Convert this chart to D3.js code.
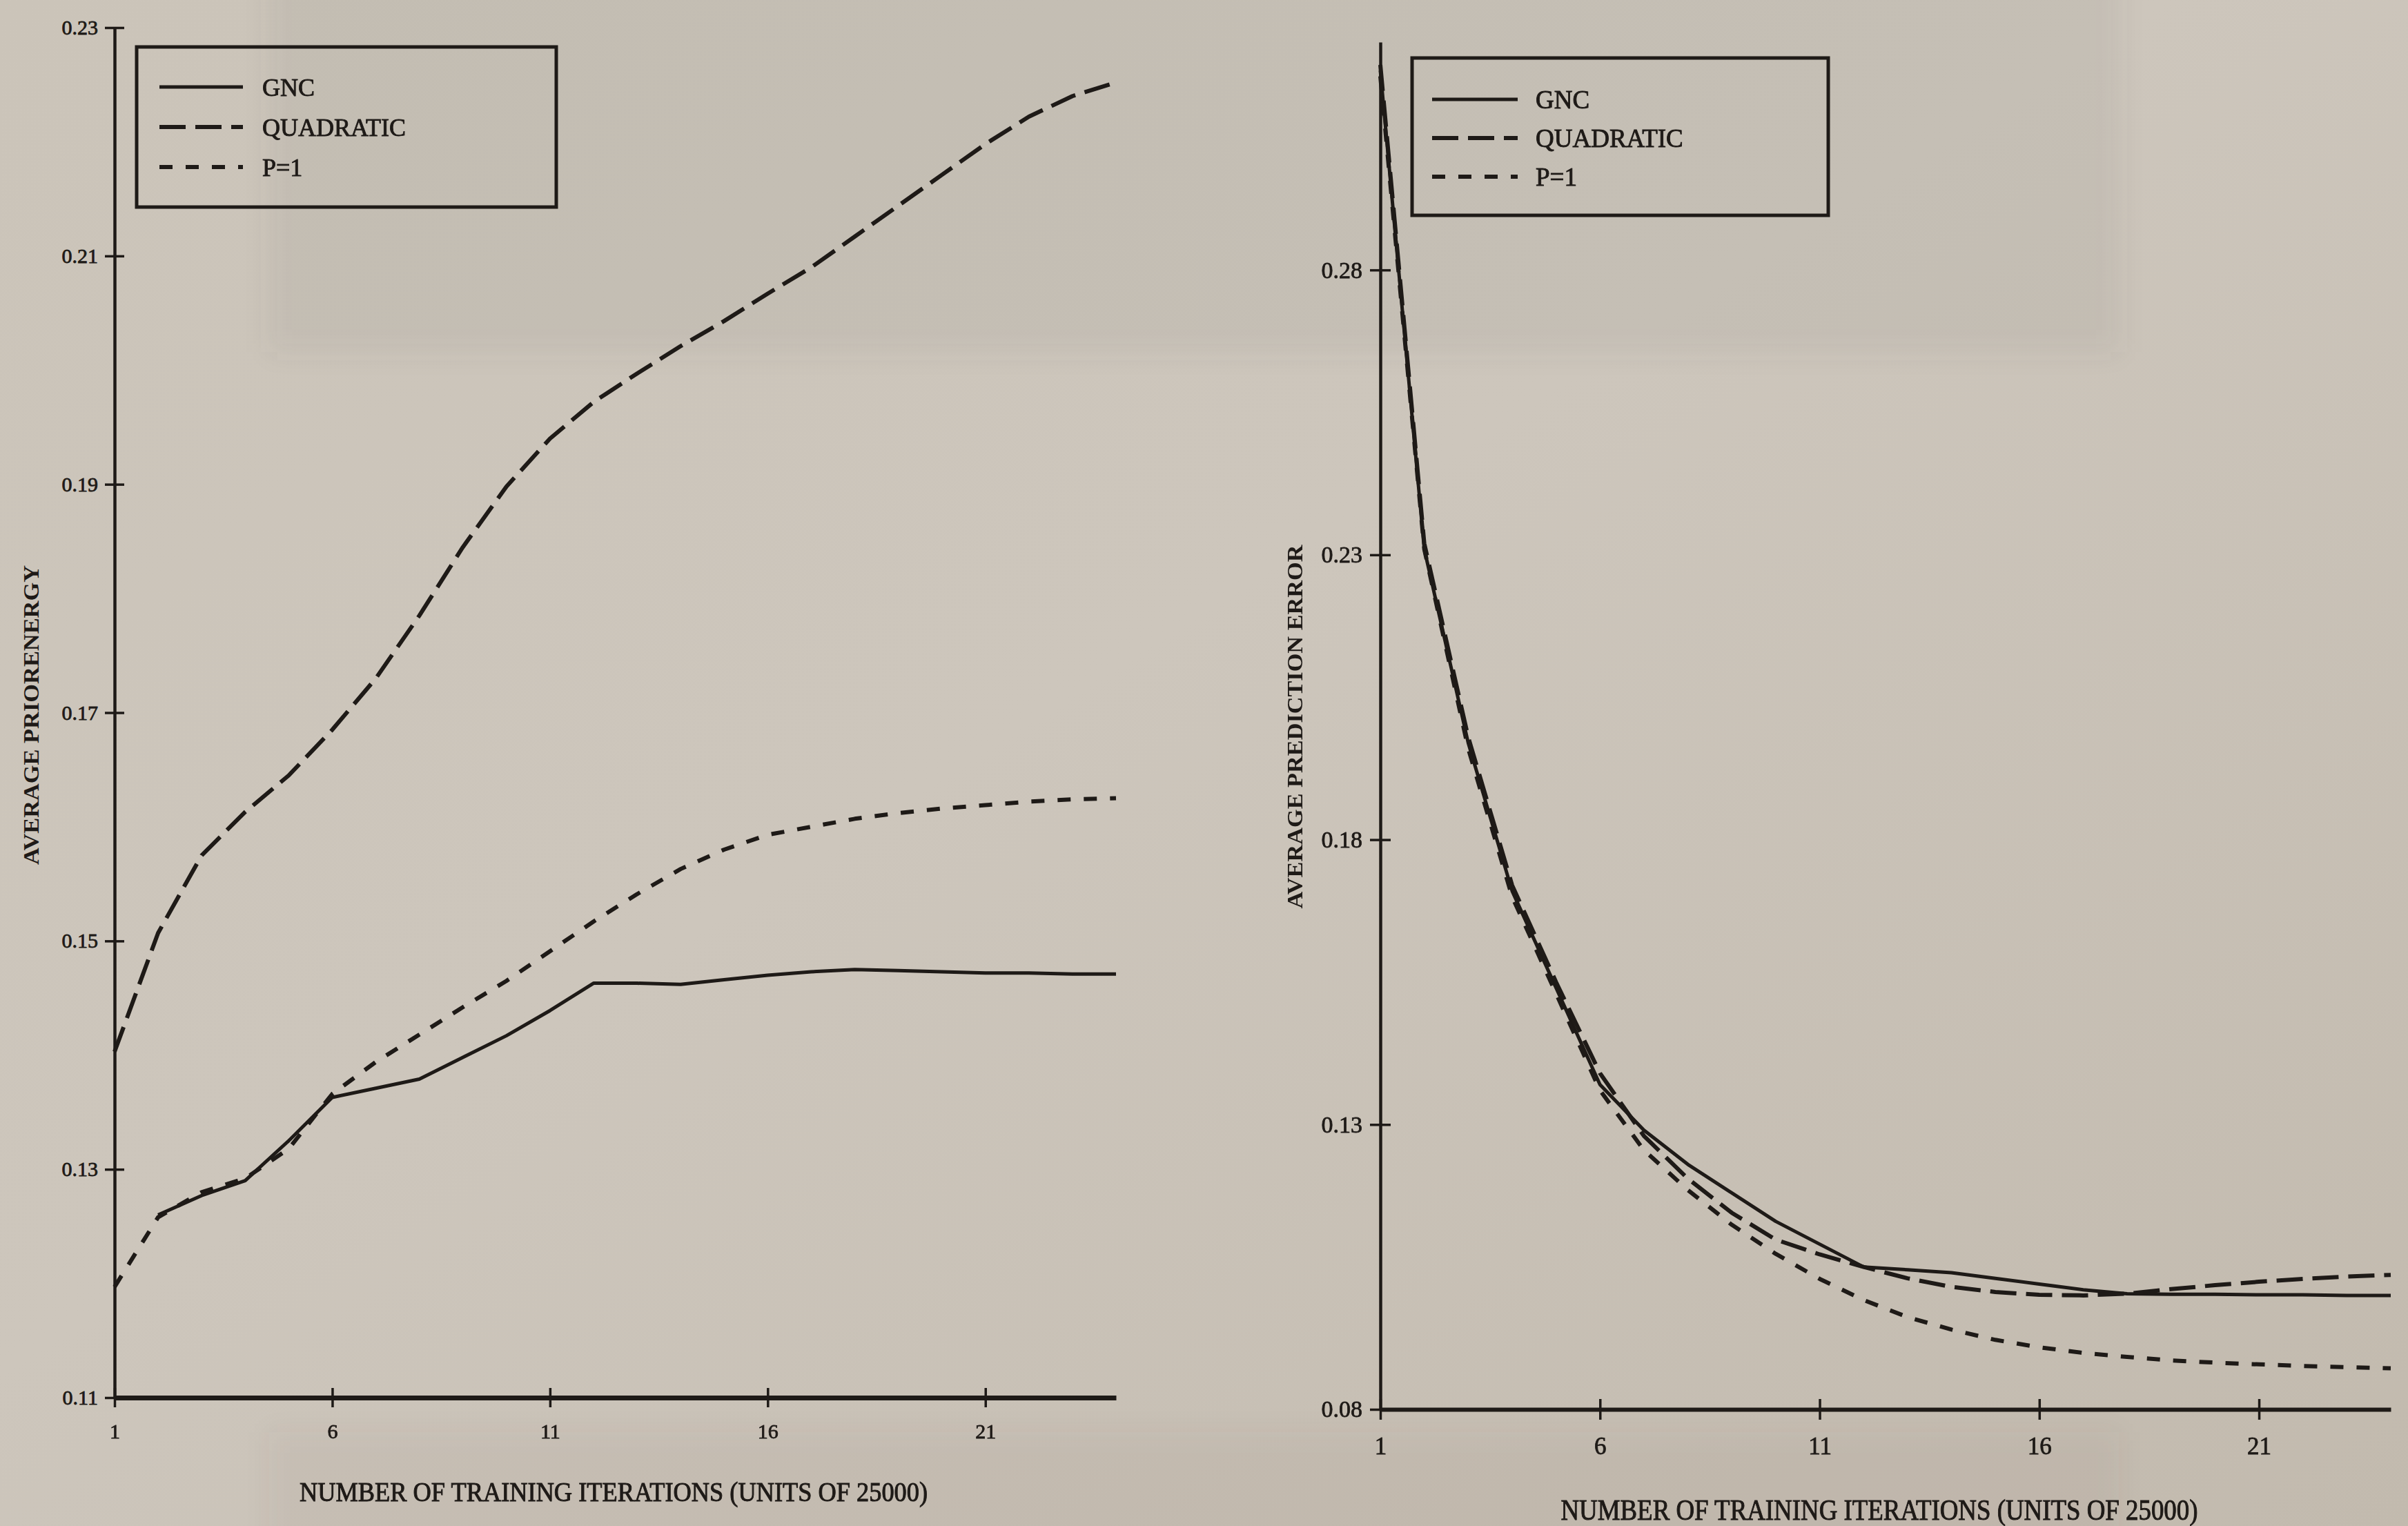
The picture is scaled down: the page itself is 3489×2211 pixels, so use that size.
<!DOCTYPE html>
<html><head><meta charset="utf-8">
<script src="https://cdn.jsdelivr.net/npm/d3@7"></script>
<style>html,body{margin:0;padding:0;background:#c7c0b5;overflow:hidden}svg{display:block}</style>
</head><body>
<svg id="c" width="3489" height="2211"></svg>
<script>
// ---------- DATA ----------
const iterations = [1,2,3,4,5,6,7,8,9,10,11,12,13,14,15,16,17,18,19,20,21,22,23,24];
const xTicks = [1,6,11,16,21];
const seriesNames = ["GNC","QUADRATIC","P=1"];

// Left panel: average prior energy
const leftYTicks = [0.11,0.13,0.15,0.17,0.19,0.21,0.23];
const leftGNC  = [null,0.1260,0.1277,0.1290,0.1325,0.1363,0.1371,0.1379,0.1398,0.1417,0.1439,0.1463,0.1463,0.1462,0.1466,0.1470,0.1473,0.1475,0.1474,0.1473,0.1472,0.1472,0.1471,0.1471];
const leftQuad = [0.1403,0.1507,0.1575,0.1613,0.1645,0.1685,0.1730,0.1785,0.1845,0.1898,0.1940,0.1972,0.1997,0.2021,0.2043,0.2067,0.2090,0.2117,0.2144,0.2171,0.2198,0.2222,0.2240,0.2252];
const leftP1   = [0.1197,0.1258,0.1280,0.1292,0.1318,0.1366,0.1394,0.1418,0.1442,0.1465,0.1491,0.1517,0.1541,0.1563,0.1580,0.1593,0.1600,0.1607,0.1612,0.1616,0.1619,0.1622,0.1624,0.1625];

// Right panel: average prediction error
const rightYTicks = [0.08,0.13,0.18,0.23,0.28];
const rightGNC  = [0.315,0.231,0.197,0.171,0.154,0.137,0.129,0.123,0.118,0.113,0.109,0.105,0.1045,0.104,0.103,0.102,0.101,0.1003,0.1002,0.1002,0.1001,0.1001,0.1000,0.1000];
const rightQuad = [0.316,0.232,0.198,0.172,0.155,0.139,0.128,0.1205,0.1145,0.1098,0.1072,0.105,0.103,0.1015,0.1006,0.1001,0.1000,0.1003,0.1011,0.1018,0.1024,0.1029,0.1033,0.1036];
const rightP1   = [0.314,0.231,0.196,0.170,0.153,0.136,0.1255,0.1185,0.1124,0.1073,0.1029,0.0992,0.0962,0.0940,0.0922,0.0909,0.0899,0.0892,0.0886,0.0882,0.0879,0.0876,0.0874,0.0872];

const xTitle = "NUMBER OF TRAINING ITERATIONS (UNITS OF 25000)";
const leftYTitle = "AVERAGE PRIORENERGY";
const rightYTitle = "AVERAGE PREDICTION ERROR";

// ---------- RENDER ----------
const W = 3489, H = 2211;
const INK = "#1e1a17";
const FONT = "'Liberation Serif','Times New Roman',serif";
const svg = d3.select("#c");
const defs = svg.append("defs");
const grad = defs.append("linearGradient").attr("id","bg").attr("x1","0").attr("y1","0").attr("x2","1").attr("y2","1");
grad.append("stop").attr("offset","0").attr("stop-color","#cbc4b9");
grad.append("stop").attr("offset","0.45").attr("stop-color","#cdc6bc");
grad.append("stop").attr("offset","1").attr("stop-color","#c2baae");
defs.append("filter").attr("id","blur").attr("x","-10%").attr("y","-10%").attr("width","120%").attr("height","120%")
  .append("feGaussianBlur").attr("stdDeviation",18);
svg.append("rect").attr("width",W).attr("height",H).attr("fill","url(#bg)");
// faint show-through of the reverse page
const ghost = svg.append("g").attr("filter","url(#blur)");
ghost.append("rect").attr("x",390).attr("y",-40).attr("width",2680).attr("height",550).attr("fill","#5e5852").attr("opacity",0.07);
ghost.append("rect").attr("x",390).attr("y",2075).attr("width",2680).attr("height",180).attr("fill","#5e5852").attr("opacity",0.05);

const styles = {
  "GNC": {dash:null, w:5},
  "QUADRATIC": {dash:"38,14", w:6},
  "P=1": {dash:"19,19", w:6}
};

function inkText(sel, sw){
  sel.attr("fill",INK).attr("stroke",INK).attr("stroke-width",sw).attr("paint-order","stroke");
}

function drawPanel(cfg){
  const g = svg.append("g");
  const x = d3.scaleLinear().domain([1,24]).range([cfg.x1, cfg.x24]);
  const y = d3.scaleLinear().domain(cfg.yDomain).range(cfg.yRange);

  // x axis
  const xa = g.append("g").attr("transform",`translate(0,${y(cfg.yDomain[0])})`)
    .call(d3.axisBottom(x).tickValues(xTicks).tickFormat(d3.format("d")).tickSize(cfg.tick).tickSizeOuter(0).tickPadding(cfg.xPad));
  xa.select(".domain").attr("stroke",INK).attr("stroke-width",cfg.xAxisW);
  xa.selectAll(".tick line").attr("y1",-cfg.tick).attr("stroke",INK).attr("stroke-width",3.5);
  xa.selectAll(".tick text").attr("font-family",FONT).attr("font-size",cfg.xFont).call(inkText,0.8);

  // y axis
  const ya = g.append("g").attr("transform",`translate(${x(1)},0)`)
    .call(d3.axisLeft(y).tickValues(cfg.yTicks).tickFormat(d3.format(".2f")).tickSize(cfg.tick).tickSizeOuter(0).tickPadding(cfg.yPad));
  ya.select(".domain").attr("stroke",INK).attr("stroke-width",cfg.yAxisW);
  ya.selectAll(".tick line").attr("x1",cfg.tick).attr("stroke",INK).attr("stroke-width",3.5);
  ya.selectAll(".tick text").attr("font-family",FONT).attr("font-size",cfg.yFont).call(inkText,0.8);
  xa.raise();

  // series
  const line = d3.line().defined(d => d.v != null).x(d => x(d.i)).y(d => y(d.v));
  cfg.series.forEach((vals, k) => {
    const st = styles[seriesNames[k]];
    g.append("path")
      .datum(iterations.map((it, j) => ({i: it, v: vals[j]})))
      .attr("d", line).attr("fill","none").attr("stroke",INK)
      .attr("stroke-width",st.w).attr("stroke-dasharray",st.dash)
      .attr("stroke-linejoin","round");
  });

  // legend
  const L = cfg.legend;
  g.append("rect").attr("x",L.x).attr("y",L.y).attr("width",L.w).attr("height",L.h)
    .attr("fill","none").attr("stroke",INK).attr("stroke-width",5);
  seriesNames.forEach((nm, k) => {
    const st = styles[nm];
    const yy = L.rows[k];
    g.append("line").attr("x1",L.lx1).attr("x2",L.lx2).attr("y1",yy).attr("y2",yy)
      .attr("stroke",INK).attr("stroke-width",st.w).attr("stroke-dasharray",st.dash);
    g.append("text").attr("x",L.tx).attr("y",yy).attr("dy","0.35em")
      .attr("font-family",FONT).attr("font-size",L.font).call(inkText,0.9).text(nm);
  });

  // titles
  g.append("text").attr("x",cfg.xt.x).attr("y",cfg.xt.y).attr("text-anchor","middle")
    .attr("font-family",FONT).attr("font-size",cfg.xt.font).call(inkText,1)
    .attr("textLength",cfg.xt.len).attr("lengthAdjust","spacingAndGlyphs").text(xTitle);
  g.append("text").attr("transform",`translate(${cfg.yt.x},${cfg.yt.y}) rotate(-90)`)
    .attr("text-anchor","middle").attr("dy","0.35em")
    .attr("font-family",FONT).attr("font-size",cfg.yt.font).attr("font-weight","bold").attr("fill",INK)
    .attr("textLength",cfg.yt.len).attr("lengthAdjust","spacingAndGlyphs").text(cfg.yt.text);
}

drawPanel({
  x1:166, x24:1617,
  yDomain:[0.11,0.23], yRange:[2025,40],
  yTicks:leftYTicks, tick:14, xPad:24, yPad:10,
  xFont:30, yFont:30, xAxisW:7, yAxisW:4.5,
  series:[leftGNC,leftQuad,leftP1],
  legend:{x:198,y:68,w:608,h:232,rows:[126,184,242],lx1:231,lx2:352,tx:380,font:36},
  xt:{x:889,y:2175,font:40,len:910},
  yt:{x:45,y:1036,font:32,len:434,text:leftYTitle}
});

drawPanel({
  x1:2000, x24:3464,
  yDomain:[0.08,0.32], yRange:[2042,61],
  yTicks:rightYTicks, tick:15, xPad:25, yPad:11,
  xFont:35, yFont:34, xAxisW:6, yAxisW:4.5,
  series:[rightGNC,rightQuad,rightP1],
  legend:{x:2046,y:84,w:603,h:228,rows:[144,200,256],lx1:2075,lx2:2199,tx:2225,font:37},
  xt:{x:2723,y:2202,font:42,len:923},
  yt:{x:1876,y:1053,font:32,len:527,text:rightYTitle}
});
</script>
</body></html>
